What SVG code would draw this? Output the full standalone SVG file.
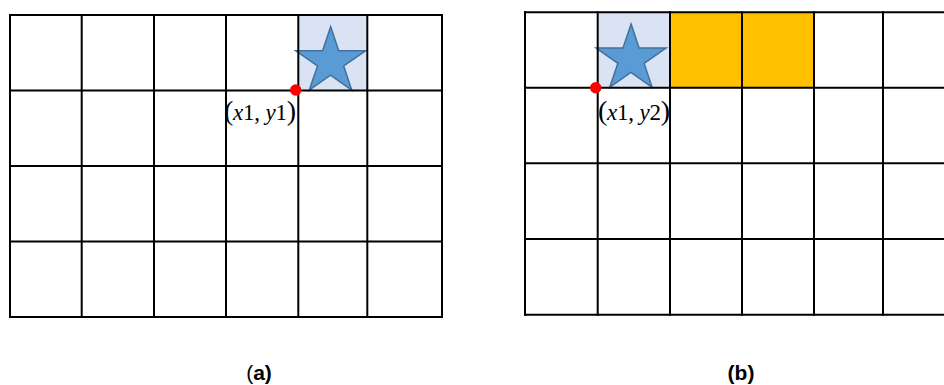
<svg xmlns="http://www.w3.org/2000/svg" width="944" height="385" viewBox="0 0 944 385">
  <style>
    .grid { stroke: #000; stroke-width: 2; fill: none; }
    .cellblue { fill: #DAE3F3; }
    .cellorange { fill: #FFC000; }
    .star { fill: #5B9BD5; stroke: #41719C; stroke-width: 1.5; stroke-linejoin: miter; }
    .dot { fill: #FF0000; }
    .coord { font-family: "Liberation Serif", "DejaVu Serif", serif; font-size: 23px; fill: #000; }
    .coord .v { font-style: italic; }
    .coord .p { font-size: 28px; }
    .cap { font-family: "Liberation Sans", Arial, sans-serif; font-size: 21px; font-weight: bold; fill: #000; text-anchor: middle; }
  </style>
  <defs>
    <path id="starShape" d="M330.7,26.7 L338.7,50.7 L365.7,50.7 L343.7,66 L351.7,90 L330.5,75.2 L309.3,90 L317.5,66 L295.7,50.7 L322.6,50.7 Z"/>
  </defs>
  <rect width="944" height="385" fill="#fff"/>

  <g id="panel-a">
    <rect class="cellblue" x="298" y="15" width="69.5" height="75.5"/>
    <use href="#starShape" class="star"/>
    <g class="grid">
      <line x1="9" y1="15" x2="443" y2="15"/>
      <line x1="9" y1="90.5" x2="443" y2="90.5"/>
      <line x1="9" y1="166" x2="443" y2="166"/>
      <line x1="9" y1="241.5" x2="443" y2="241.5"/>
      <line x1="9" y1="317" x2="443" y2="317"/>
      <line x1="10" y1="14" x2="10" y2="318"/>
      <line x1="81.7" y1="14" x2="81.7" y2="318"/>
      <line x1="154" y1="14" x2="154" y2="318"/>
      <line x1="226" y1="14" x2="226" y2="318"/>
      <line x1="298.3" y1="14" x2="298.3" y2="318"/>
      <line x1="367.3" y1="14" x2="367.3" y2="318"/>
      <line x1="442" y1="14" x2="442" y2="318"/>
    </g>
    <circle class="dot" cx="295.7" cy="90" r="5.7"/>
    <text class="coord" x="224" y="120" textLength="72"><tspan class="p">(</tspan><tspan class="v">x</tspan>1, <tspan class="v">y</tspan>1<tspan class="p">)</tspan></text>
    <text class="cap" x="259" y="380"><tspan font-weight="normal">(</tspan>a)</text>
  </g>

  <g id="panel-b">
    <rect class="cellblue" x="598" y="12.3" width="72" height="75.4"/>
    <rect class="cellorange" x="670" y="12.3" width="144" height="75.4"/>
    <use href="#starShape" class="star" transform="translate(300.4,-2.7)"/>
    <g class="grid">
      <line x1="524" y1="12.3" x2="944" y2="12.3"/>
      <line x1="524" y1="87.7" x2="944" y2="87.7"/>
      <line x1="524" y1="163.3" x2="944" y2="163.3"/>
      <line x1="524" y1="239" x2="944" y2="239"/>
      <line x1="524" y1="314.7" x2="944" y2="314.7"/>
      <line x1="525" y1="11.3" x2="525" y2="315.7"/>
      <line x1="597.7" y1="11.3" x2="597.7" y2="315.7"/>
      <line x1="670" y1="11.3" x2="670" y2="315.7"/>
      <line x1="742" y1="11.3" x2="742" y2="315.7"/>
      <line x1="814" y1="11.3" x2="814" y2="315.7"/>
      <line x1="883" y1="11.3" x2="883" y2="315.7"/>
    </g>
    <circle class="dot" cx="595.7" cy="87.7" r="5.7"/>
    <text class="coord" x="598" y="120" textLength="72"><tspan class="p">(</tspan><tspan class="v">x</tspan>1, <tspan class="v">y</tspan>2<tspan class="p">)</tspan></text>
    <text class="cap" x="741" y="380">(b)</text>
  </g>
</svg>
